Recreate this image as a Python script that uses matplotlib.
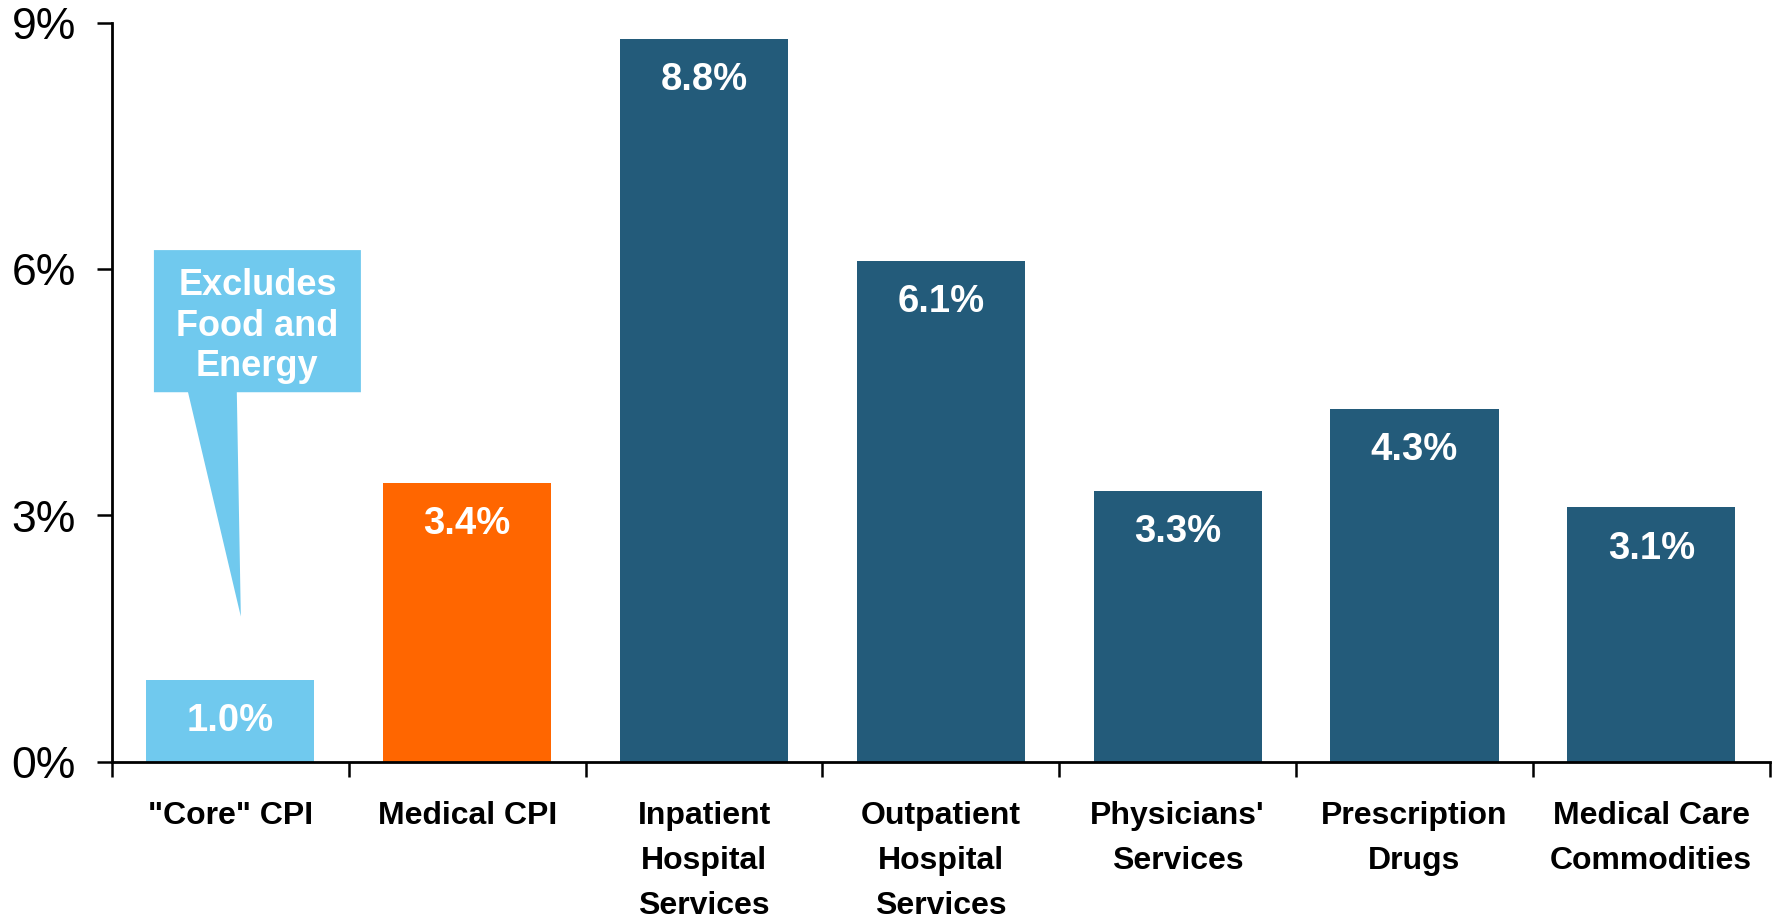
import matplotlib.pyplot as plt
from matplotlib.patches import Polygon

categories = ['"Core" CPI', 'Medical CPI', 'Inpatient\nHospital\nServices',
              'Outpatient\nHospital\nServices', "Physicians'\nServices",
              'Prescription\nDrugs', 'Medical Care\nCommodities']
values = [1.0, 3.4, 8.8, 6.1, 3.3, 4.3, 3.1]
yticks = [0, 3, 6, 9]
callout_text = 'Excludes\nFood and\nEnergy'

light = '#70C9EE'
orange = '#FF6600'
dark = '#235B7A'
colors = [light, orange] + [dark] * 5

plt.rcParams['font.family'] = ['Liberation Sans', 'DejaVu Sans']

fig = plt.figure(figsize=(17.75, 9.205), dpi=100)
ax = fig.add_axes([0.0631, 0.1717, 0.9339, 0.8033])

x = range(len(values))
ax.bar(x, values, width=0.71, color=colors)

# value labels inside bar tops
for i, v in enumerate(values):
    ax.annotate(f'{v:.1f}%', (i, v), xytext=(0, -29.5), textcoords='offset points',
                ha='center', va='center', color='white', fontsize=27.5, fontweight='bold')

# callout box with tail
box = [(-0.323, 6.23), (0.551, 6.23), (0.551, 4.5), (0.027, 4.5),
       (0.044, 1.77), (-0.179, 4.5), (-0.323, 4.5)]
ax.add_patch(Polygon(box, closed=True, facecolor=light, edgecolor='none', zorder=3))
ax.text(0.114, 5.31, callout_text, ha='center', va='center', color='white',
        fontsize=26, fontweight='bold', linespacing=1.2, zorder=4)

ax.set_xlim(-0.5, len(values) - 0.5)
ax.set_ylim(0, 9)
ax.set_yticks(yticks)
ax.set_yticklabels([f'{t}%' for t in yticks], fontsize=32)
ax.set_xticks(list(x))
ax.set_xticklabels(categories, fontsize=23, fontweight='bold', linespacing=1.65)
ax.set_xticks([i - 0.5 for i in range(len(values) + 1)], minor=True)

ax.tick_params(axis='x', which='major', length=0, pad=28)
ax.tick_params(axis='x', which='minor', length=11, width=1.8, direction='out')
ax.tick_params(axis='y', length=11, width=1.8, pad=15)

for s in ['top', 'right']:
    ax.spines[s].set_visible(False)
ax.spines['left'].set_linewidth(2)
ax.spines['bottom'].set_linewidth(2)

fig.savefig('out.png', dpi=100)
